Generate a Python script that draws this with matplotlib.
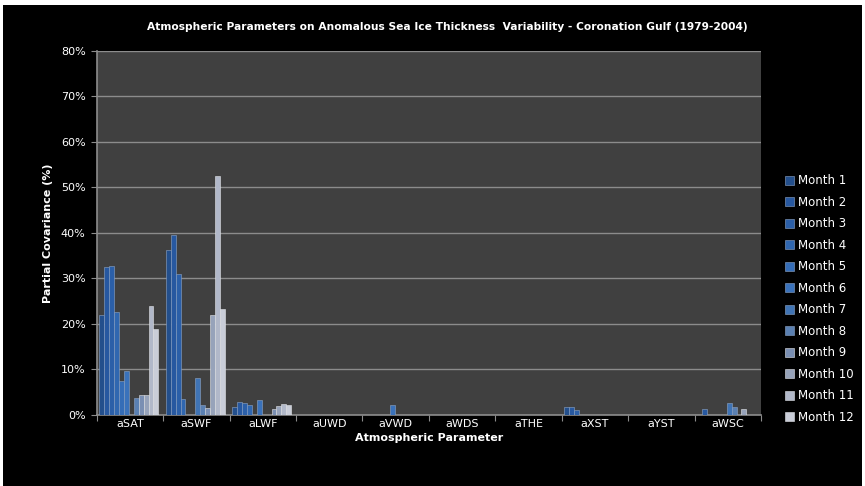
import numpy as np
import matplotlib
matplotlib.use("Agg")
import matplotlib.pyplot as plt
from matplotlib.patches import Rectangle

# Datos (% covarianza parcial)
params = ["aSAT", "aSWF", "aLWF", "aUWD", "aVWD", "aWDS", "aTHE", "aXST", "aYST", "aWSC"]
months = ["Month %d" % i for i in range(1, 13)]

# una lista por mes, valor por parámetro
m1 = [21.8, 36.2, 1.7, 0, 0, 0, 0, 1.7, 0, 0]
m2 = [32.4, 39.5, 2.7, 0, 0, 0, 0, 1.6, 0, 1.3]
m3 = [32.8, 30.9, 2.5, 0, 0, 0, 0, 1.1, 0, 0]
m4 = [22.6, 3.5, 2.1, 0, 0, 0, 0, 0, 0, 0]
m5 = [7.4, 0, 0, 0, 0, 0, 0, 0, 0, 0]
m6 = [9.6, 0, 3.2, 0, 2.1, 0, 0, 0, 0, 0]
m7 = [0, 8.0, 0, 0, 0, 0, 0, 0, 0, 2.5]
m8 = [3.7, 2.1, 0, 0, 0, 0, 0, 0, 0, 1.6]
m9 = [4.4, 1.4, 1.2, 0, 0, 0, 0, 0, 0, 0]
m10 = [4.4, 21.8, 1.9, 0, 0, 0, 0, 0, 0, 1.3]
m11 = [23.9, 52.4, 2.3, 0, 0, 0, 0, 0, 0, 0]
m12 = [18.8, 23.2, 2.2, 0, 0, 0, 0, 0, 0, 0]
series = [m1, m2, m3, m4, m5, m6, m7, m8, m9, m10, m11, m12]

colores = ["#234f8c", "#2758a0", "#2b5fa8", "#3067b0", "#356db7", "#3a72bb",
           "#4074b5", "#5a80b2", "#7a8fb3", "#97a3ba", "#b1b8c9", "#c9cdd8"]

fig = plt.figure(figsize=(8.65, 4.86), dpi=100, facecolor="white")
fig.patches.append(Rectangle((0.004, 0.0), 0.992, 0.99, transform=fig.transFigure,
                             facecolor="black", edgecolor="none", zorder=-10))
ax = fig.add_axes([0.1118, 0.147, 0.768, 0.748])
ax.set_facecolor("#404040")

x = np.arange(len(params))
ancho = 0.074
for i, (vals, c) in enumerate(zip(series, colores)):
    pos = x - 0.5 + 0.04 + ancho * (i + 0.5)
    ax.bar(pos, vals, width=ancho, color=c, edgecolor="#8ea6c8" if i < 8 else "#e4e6ea",
           linewidth=0.4, label=months[i], zorder=3)

ax.set_xlim(-0.5, len(params) - 0.5)
ax.set_ylim(0, 80)
ax.set_yticks(np.arange(0, 81, 10))
ax.set_yticklabels(["%d%%" % v for v in range(0, 81, 10)])
ax.yaxis.grid(True, color="#8c8c8c", linewidth=1.0, zorder=0)

ax.set_xticks(np.arange(-0.5, len(params), 1.0))
ax.set_xticklabels([])
ax.set_xticks(x, minor=True)
ax.set_xticklabels(params, minor=True)
ax.tick_params(axis="x", which="minor", length=0, pad=3, labelsize=8, colors="white")
ax.tick_params(axis="x", which="major", length=4, color="#8c8c8c")
ax.tick_params(axis="y", length=4, color="#8c8c8c", labelsize=8, labelcolor="white", pad=4)

for s in ["top", "right"]:
    ax.spines[s].set_visible(False)
for s in ["left", "bottom"]:
    ax.spines[s].set_color("#8c8c8c")
    ax.spines[s].set_linewidth(1.2)

fig.text(0.517, 0.944,
         "Atmospheric Parameters on Anomalous Sea Ice Thickness  Variability - Coronation Gulf (1979-2004)",
         color="white", fontsize=7.7, fontweight="bold", ha="center", va="center")
ax.set_xlabel("Atmospheric Parameter", color="white", fontsize=8, fontweight="bold", labelpad=3)
ax.set_ylabel("Partial Covariance (%)", color="white", fontsize=8, fontweight="bold", labelpad=6)

leg = ax.legend(loc="upper left", bbox_to_anchor=(1.02, 0.69), frameon=False, fontsize=8.5,
                labelcolor="white", handlelength=0.8, handleheight=0.8, handletextpad=0.3,
                labelspacing=0.72)

plt.savefig("out.png", dpi=100, facecolor=fig.get_facecolor())
